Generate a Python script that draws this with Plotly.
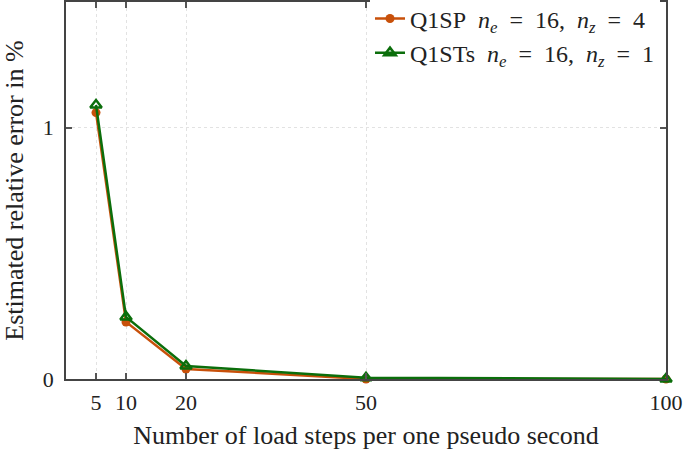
import plotly.graph_objects as go

steps = [5, 10, 20, 50, 100]
err_q1sp = [1.06, 0.227, 0.04, 0.0, 0.0]
err_q1sts = [1.09, 0.247, 0.052, 0.005, 0.0]

FONT = "Liberation Serif"
ORANGE = "#c8500a"
GREEN = "#0b6e0b"
EN = "\u2002"  # en space, html entities are not parsed by plotly


def label(name, nz):
    return (f"{name}{EN}<i>n</i><sub><i>e</i></sub>{EN}={EN}16,{EN}"
            f"<i>n</i><sub><i>z</i></sub>{EN}={EN}{nz}")


fig = go.Figure()
fig.add_trace(go.Scatter(
    x=steps, y=err_q1sp, mode="lines+markers",
    name=label("Q1SP", 4),
    line=dict(color=ORANGE, width=2.5),
    marker=dict(symbol="circle", size=9, color=ORANGE),
    cliponaxis=False,
))
fig.add_trace(go.Scatter(
    x=steps, y=err_q1sts, mode="lines+markers",
    name=label("Q1STs", 1),
    line=dict(color=GREEN, width=2.5),
    marker=dict(symbol="triangle-up-open", size=10, color=GREEN, line=dict(width=2.5)),
    cliponaxis=False,
))

fig.update_layout(
    width=685, height=450,
    margin=dict(l=66, r=19, t=2, b=71, autoexpand=False),
    paper_bgcolor="white", plot_bgcolor="white",
    font=dict(family=FONT, size=22, color="#222"),
    legend=dict(x=0.99, y=1.015, xanchor="right", yanchor="top",
                bgcolor="white", font=dict(size=24), tracegroupgap=0,
                itemwidth=30),
    showlegend=True,
)
fig.update_xaxes(
    range=[0, 100], tickvals=steps, ticks="inside", ticklen=6,
    tickcolor="#555", tickwidth=1.5, ticklabelstandoff=3,
    showline=True, linecolor="#444", linewidth=1.5, mirror="ticks",
    showgrid=True, gridcolor="#e2e2e2", griddash="dot", gridwidth=1,
    zeroline=False, automargin=False,
    title=dict(text="Number of load steps per one pseudo second", standoff=17),
)
fig.update_yaxes(
    range=[0, 1.5], tickvals=[0, 1], ticks="inside", ticklen=6,
    tickcolor="#555", tickwidth=1.5, ticklabelstandoff=6,
    showline=True, linecolor="#444", linewidth=1.5, mirror="ticks",
    showgrid=True, gridcolor="#e2e2e2", griddash="dot", gridwidth=1,
    zeroline=False, automargin=False,
    title=dict(text="Estimated relative error in %", standoff=14),
)

fig.write_html("out.html", config={"displayModeBar": False},
               post_script="document.body.style.margin='0px';")
